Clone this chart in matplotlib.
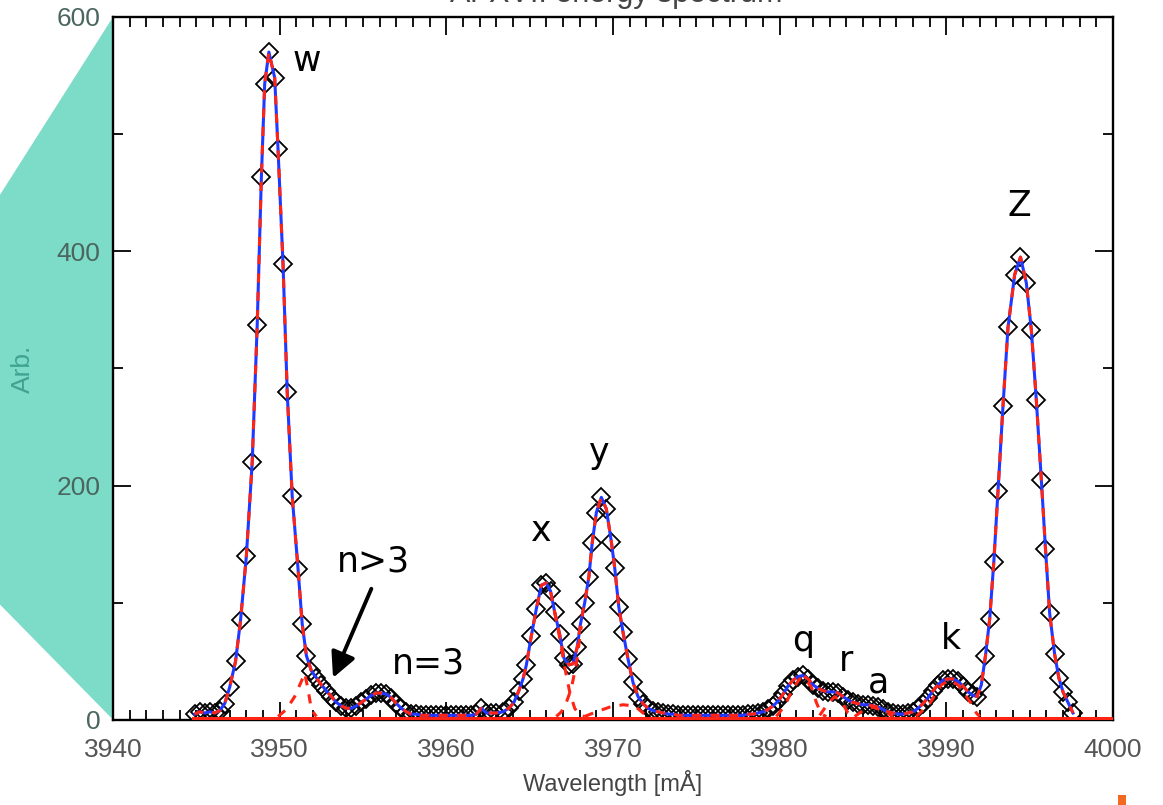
import numpy as np
import matplotlib
matplotlib.use("Agg")
import matplotlib.pyplot as plt
from matplotlib.patches import Polygon, Rectangle
from matplotlib.ticker import MultipleLocator

wl = [3944.9, 3945.2, 3945.5, 3945.8, 3946.1, 3946.4, 3946.7, 3947.0, 3947.35, 3947.65,
      3948.0, 3948.35, 3948.65, 3948.9, 3949.1, 3949.35, 3949.7, 3949.9, 3950.2, 3950.45,
      3950.75, 3951.1, 3951.35, 3951.6, 3951.9, 3952.2, 3952.5, 3952.8, 3953.1, 3953.4,
      3953.7, 3954.0, 3954.3, 3954.6, 3954.9, 3955.2, 3955.5, 3955.8, 3956.1, 3956.4,
      3956.7, 3957.0, 3957.3, 3957.6, 3957.9, 3958.2, 3958.5, 3958.8, 3959.1, 3959.4,
      3959.7, 3960.0, 3960.3, 3960.6, 3960.9, 3961.2, 3961.5, 3961.8, 3962.1, 3962.4,
      3962.7, 3963.0, 3963.4, 3963.75, 3964.05, 3964.35, 3964.6, 3964.8, 3965.1, 3965.4,
      3965.7, 3966.0, 3966.25, 3966.5, 3966.8, 3967.05, 3967.35, 3967.6, 3967.85, 3968.05,
      3968.3, 3968.55, 3968.75, 3969.0, 3969.3, 3969.6, 3969.9, 3970.1, 3970.35, 3970.6,
      3970.9, 3971.2, 3971.5, 3971.8, 3972.1, 3972.4, 3972.7, 3973.0, 3973.3, 3973.6,
      3973.9, 3974.2, 3974.5, 3974.8, 3975.1, 3975.4, 3975.7, 3976.0, 3976.3, 3976.6,
      3976.9, 3977.2, 3977.5, 3977.8, 3978.1, 3978.4, 3978.7, 3979.0, 3979.3, 3979.6,
      3979.9, 3980.2, 3980.5, 3980.8, 3981.1, 3981.4, 3981.7, 3982.0, 3982.3, 3982.6,
      3982.9, 3983.2, 3983.5, 3983.8, 3984.1, 3984.4, 3984.7, 3985.0, 3985.3, 3985.6,
      3985.9, 3986.2, 3986.5, 3986.8, 3987.1, 3987.4, 3987.7, 3988.0, 3988.3, 3988.6,
      3988.9, 3989.2, 3989.5, 3989.8, 3990.1, 3990.4, 3990.7, 3991.0, 3991.3, 3991.6,
      3991.85, 3992.1, 3992.35, 3992.6, 3992.85, 3993.1, 3993.4, 3993.7, 3994.1, 3994.45,
      3994.8, 3995.1, 3995.4, 3995.7, 3995.95, 3996.2, 3996.5, 3996.75, 3997.0, 3997.3,
      3997.6]
counts = [5, 7, 6, 7, 6, 8, 14, 28, 50, 85,
          140, 220, 337, 463, 543, 570, 548, 487, 389, 280,
          191, 129, 82, 55, 42, 36, 30, 25, 20, 15,
          12, 10, 10, 12, 15, 18, 21, 23, 23, 22,
          19, 14, 10, 7, 5, 5, 4, 4, 4, 4,
          4, 4, 4, 4, 4, 4, 4, 5, 10, 6,
          6, 6, 7, 10, 15, 25, 35, 47, 72, 95,
          115, 117, 110, 92, 73, 53, 47, 48, 62, 82,
          100, 122, 151, 177, 190, 180, 152, 130, 96, 75,
          52, 32, 20, 14, 10, 8, 7, 6, 5, 5,
          4, 4, 4, 4, 4, 4, 4, 4, 4, 4,
          4, 4, 4, 4, 5, 5, 6, 7, 9, 12,
          16, 22, 29, 34, 37, 38, 35, 30, 27, 25,
          24, 24, 23, 20, 17, 15, 14, 13, 13, 12,
          11, 9, 7, 6, 5, 5, 6, 7, 10, 14,
          19, 25, 30, 34, 35, 35, 33, 29, 24, 21,
          20, 30, 55, 86, 135, 195, 268, 335, 380, 395,
          373, 333, 273, 205, 146, 91, 56, 36, 24, 15,
          6]

# fitted components where they come apart from the total
nsat_x = [3949.9, 3950.4, 3950.9, 3951.3, 3951.5, 3951.7, 3951.9, 3952.2]
nsat_y = [3, 9, 20, 33, 40, 26, 9, 3]
xtail_x = [3966.5, 3966.8, 3967.1, 3967.4, 3967.7, 3968.0, 3968.3]
xtail_y = [92, 70, 45, 24, 10, 4, 3]
ytail_x = [3966.6, 3966.9, 3967.2, 3967.5, 3967.8, 3968.1]
ytail_y = [3, 7, 15, 27, 48, 80]
jsat_x = [3968.3, 3969.0, 3969.8, 3970.6, 3971.3, 3971.8, 3972.2]
jsat_y = [3, 7, 11, 13, 12, 6, 3]
q_x = [3979.8, 3980.3, 3980.8, 3981.2, 3981.5, 3981.9, 3982.2, 3982.5, 3982.8]
q_y = [3, 12, 27, 35, 36, 28, 15, 5, 3]
r_x = [3982.4, 3982.9, 3983.3, 3983.7, 3984.1, 3984.4]
r_y = [4, 14, 20, 16, 6, 3]
a_x = [3984.5, 3985.0, 3985.6, 3986.2, 3986.8]
a_y = [3, 8, 11, 8, 3]
k_x = [3988.2, 3989.0, 3989.7, 3990.2, 3990.7, 3991.2, 3991.6, 3991.8, 3992.0]
k_y = [3, 14, 30, 34, 30, 20, 12, 6, 3]
base_x = [3944.8, 4000.0]
base_y = [2, 2]

# line labels (text, wavelength, height)
labels = [("w", 3951.6, 562), ("x", 3965.7, 161), ("y", 3969.2, 228), ("Z", 3994.4, 439),
          ("n=3", 3958.9, 48), ("q", 3981.4, 67), ("r", 3984.0, 50), ("a", 3985.9, 32),
          ("k", 3990.3, 69)]

red = "#ff2414"
blue = "#2038ff"

fig = plt.figure(figsize=(11.63, 8.05), dpi=100)
fig.patch.set_facecolor("white")

# teal slide decoration behind the y axis
fig.patches.append(Polygon([[0.0972, 0.979], [0.0, 0.758], [0.0, 0.249], [0.0972, 0.106]],
                           closed=True, transform=fig.transFigure, facecolor="#7ddcc8",
                           edgecolor="none", zorder=0))
fig.patches.append(Rectangle((0.961, 0.0), 0.007, 0.013, transform=fig.transFigure,
                             facecolor="#f26a22", edgecolor="none", zorder=0))

ax = fig.add_axes([0.0972, 0.1056, 0.8598, 0.8734])
ax.set_zorder(1)

ax.plot(wl, counts, linestyle="none", marker="D", markersize=9, markerfacecolor="none",
        markeredgecolor="black", markeredgewidth=1.3, zorder=2)
ax.plot(wl, counts, color=blue, lw=2.2, zorder=3)
ax.plot(base_x, base_y, color=red, lw=2.2, zorder=3)
ax.plot(wl, counts, color=red, lw=2.2, dashes=(3, 3), zorder=4)
for cx, cy in [(nsat_x, nsat_y), (xtail_x, xtail_y), (ytail_x, ytail_y), (jsat_x, jsat_y),
               (q_x, q_y), (r_x, r_y), (a_x, a_y), (k_x, k_y)]:
    ax.plot(cx, cy, color=red, lw=2.2, dashes=(3, 3), zorder=4)

for txt, lx, ly in labels:
    ax.text(lx, ly, txt, fontsize=25, ha="center", va="center", color="black",
            family="DejaVu Sans", zorder=6)
ax.text(3955.6, 135, "n>3", fontsize=25, ha="center", va="center", family="DejaVu Sans", zorder=6)
ax.annotate("", xy=(3953.2, 36), xytext=(3955.5, 112),
            arrowprops=dict(arrowstyle="-|>", lw=2.8, color="black", mutation_scale=38,
                            shrinkA=0, shrinkB=0), zorder=6)

ax.set_xlim(3940, 4000)
ax.set_ylim(0, 600)
ax.xaxis.set_major_locator(MultipleLocator(10))
ax.xaxis.set_minor_locator(MultipleLocator(1))
ax.yaxis.set_major_locator(MultipleLocator(200))
ax.yaxis.set_minor_locator(MultipleLocator(100))
ax.tick_params(which="both", direction="in", top=True, right=True, width=1.3, color="black")
ax.tick_params(which="major", length=13)
ax.tick_params(which="minor", length=7)
ax.tick_params(axis="x", labelsize=19, labelcolor="#555555", pad=13)
ax.tick_params(axis="y", labelsize=19, labelcolor="#4a665f", pad=9)
for lab in ax.get_xticklabels() + ax.get_yticklabels():
    lab.set_family("Liberation Sans")
for sp in ax.spines.values():
    sp.set_linewidth(1.7)

ax.set_xlabel("Wavelength [mÅ]", fontsize=17, color="#444444", family="Liberation Sans", labelpad=6)
ax.set_ylabel("Arb.", fontsize=19, color="#3fa391", family="Liberation Sans")
ax.yaxis.set_label_coords(-0.078, 0.5)

# title, mostly cut off at the top edge of the slide
fig.text(0.53, 0.997, "Ar XVII energy spectrum", fontsize=22, color="#444444",
         ha="center", va="baseline", family="Liberation Sans")

plt.savefig("out.png", dpi=100)
